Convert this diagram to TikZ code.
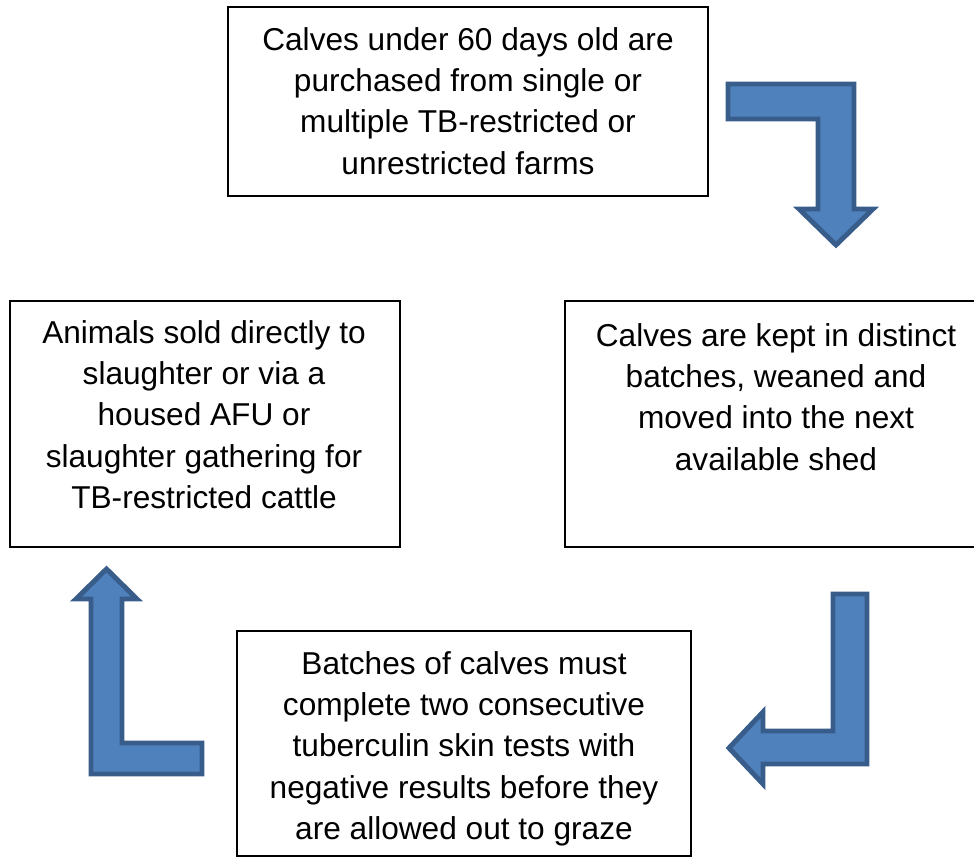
\documentclass[tikz,border=0pt]{standalone}
\usepackage{fontspec}
\setmainfont{Liberation Sans}
\definecolor{arrowfill}{HTML}{4F81BD}
\definecolor{arrowdraw}{HTML}{385D8A}
\tikzset{
  stage/.style={draw, line width=1.1pt, inner sep=0pt},
  stagetext/.style={anchor=north, align=center, inner sep=0pt, font=\fontsize{18}{23.5}\selectfont},
  bigarrow/.style={draw=arrowdraw, fill=arrowfill, line width=2.8pt, line join=miter},
}
\begin{document}
\begin{tikzpicture}[x=0.02cm, y=-0.02cm]
  \useasboundingbox (0,0) rectangle (974,858);
  \node[stage, minimum width=9.6cm, minimum height=3.78cm] (buy) at (468,101.5) {};
  \node[stage, minimum width=7.8cm, minimum height=4.92cm] (sell) at (205,424) {};
  \node[stage, minimum width=8.46cm, minimum height=4.92cm] (rear) at (776.5,424) {};
  \node[stage, minimum width=9.08cm, minimum height=4.5cm] (test) at (464,743.5) {};
  \node[stagetext] (buytext) at (468,27) {Calves under 60 days old are\\purchased from single or\\multiple TB-restricted or\\unrestricted farms};
  \node[stagetext] (selltext) at (204,320) {Animals sold directly to\\slaughter or via a\\housed AFU or\\slaughter gathering for\\TB-restricted cattle};
  \node[stagetext] (reartext) at (776,323) {Calves are kept in distinct\\batches, weaned and\\moved into the next\\available shed};
  \node[stagetext] (testtext) at (464,651) {Batches of calves must\\complete two consecutive\\tuberculin skin tests with\\negative results before they\\are allowed out to graze};
  \draw[bigarrow] (728,84) -- (854,84) -- (854,209) -- (873,209) -- (836,245) -- (799,209) -- (818,209) -- (818,119) -- (728,119) -- cycle;
  \draw[bigarrow] (833,594) -- (867,594) -- (867,764) -- (763,764) -- (763,784) -- (729,748) -- (763,712) -- (763,731) -- (833,731) -- cycle;
  \draw[bigarrow] (91,774) -- (202,774) -- (202,743) -- (122,743) -- (122,599) -- (137,599) -- (106.5,569) -- (76,599) -- (91,599) -- cycle;
\end{tikzpicture}
\end{document}
